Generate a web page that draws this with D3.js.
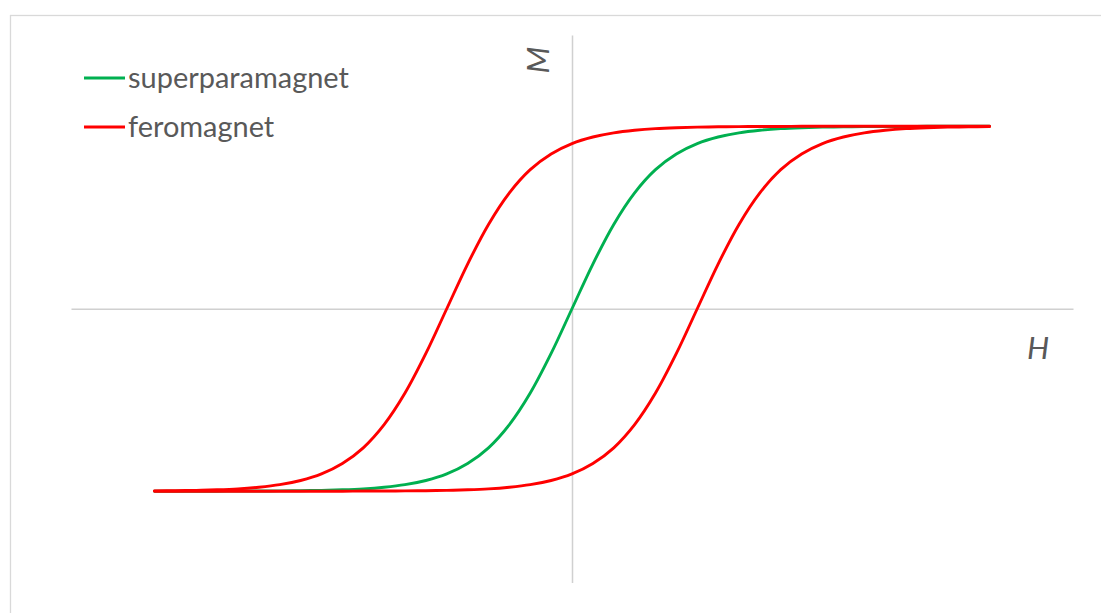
<!DOCTYPE html>
<html><head><meta charset="utf-8">
<script src="https://cdn.jsdelivr.net/npm/d3@7"></script>
<style>html,body{margin:0;padding:0;background:#fff;}svg{display:block;font-family:Lato,"Open Sans",sans-serif;}</style>
</head><body>
<script>
// Data
const H = [-1,-0.95,-0.9,-0.85,-0.8,-0.75,-0.7,-0.65,-0.6,-0.55,-0.5,-0.45,-0.4,-0.35,-0.3,-0.25,-0.2,-0.15,-0.1,-0.05,0,
  0.05,0.1,0.15,0.2,0.25,0.3,0.35,0.4,0.45,0.5,0.55,0.6,0.65,0.7,0.75,0.8,0.85,0.9,0.95,1];
const superparamagnetM = [-1,-1,-1,-1,-0.999,-0.999,-0.998,-0.997,-0.995,-0.992,-0.987,-0.978,-0.964,-0.941,-0.905,-0.848,-0.762,-0.635,-0.462,-0.245,0,
  0.245,0.462,0.635,0.762,0.848,0.905,0.941,0.964,0.978,0.987,0.992,0.995,0.997,0.998,0.999,0.999,1,1,1,1];
const feroAscendingM = [-1,-1,-1,-1,-1,-1,-1,-1,-1,-1,-0.999,-0.999,-0.998,-0.997,-0.995,-0.992,-0.987,-0.978,-0.964,-0.941,-0.905,
  -0.848,-0.762,-0.635,-0.462,-0.245,0,0.245,0.462,0.635,0.762,0.848,0.905,0.941,0.964,0.978,0.987,0.992,0.995,0.997,0.998];
const feroDescendingM = [-0.998,-0.997,-0.995,-0.992,-0.987,-0.978,-0.964,-0.941,-0.905,-0.848,-0.762,-0.635,-0.462,-0.245,0,0.245,0.462,0.635,0.762,0.848,0.905,
  0.941,0.964,0.978,0.987,0.992,0.995,0.997,0.998,0.999,0.999,1,1,1,1,1,1,1,1,1,1];
const seriesNames = ["superparamagnet","feromagnet"];
const seriesColors = ["#00B050","#FF0000"];
const axisTitles = {x:"H", y:"M"};

const W=1101, Hh=613;
const svg = d3.select("body").append("svg").attr("width",W).attr("height",Hh);
svg.append("rect").attr("x",10.5).attr("y",15.5).attr("width",W+20).attr("height",Hh+20)
  .attr("fill","#fff").attr("stroke","#d9d9d9").attr("stroke-width",1.3);

const x = d3.scaleLinear().domain([-1.2,1.2]).range([71,1073]);
const y = d3.scaleLinear().domain([-1.5,1.5]).range([582.5,35]);

svg.append("g").attr("transform",`translate(0,${y(0)})`)
  .call(d3.axisBottom(x).tickValues([]).tickSizeOuter(0));
svg.append("g").attr("transform",`translate(${x(0)},0)`)
  .call(d3.axisLeft(y).tickValues([]).tickSizeOuter(0));
svg.selectAll(".domain").attr("stroke","#d0d0d0").attr("stroke-width",1.5);

const line = d3.line().x(d=>x(d[0])).y(d=>y(d[1])).curve(d3.curveCatmullRom);
const green = H.map((h,i)=>[h,superparamagnetM[i]]);
const redAsc = H.map((h,i)=>[h,feroAscendingM[i]]);
const redDesc = H.map((h,i)=>[h,feroDescendingM[i]]);

const g = svg.append("g").attr("fill","none").attr("stroke-width",2.9).attr("stroke-linecap","round").attr("stroke-linejoin","round");
g.append("path").attr("d",line(green)).attr("stroke",seriesColors[0]);
g.append("path").attr("d",line(redAsc)).attr("stroke",seriesColors[1]);
g.append("path").attr("d",line(redDesc)).attr("stroke",seriesColors[1]);

// Legend
const legend = svg.append("g");
const legY = [78,127];
seriesNames.forEach((n,i)=>{
  legend.append("line").attr("x1",84).attr("x2",125).attr("y1",legY[i]).attr("y2",legY[i])
    .attr("stroke",seriesColors[i]).attr("stroke-width",2.9);
  legend.append("text").attr("x",128).attr("y",legY[i]).attr("dy","0.35em")
    .attr("fill","#595959").attr("font-size",28).text(n);
});
const t0 = legend.select("text").node();
const wNow = t0.getComputedTextLength();
const fs = 28*221/wNow;
legend.selectAll("text").attr("font-size",fs);

svg.append("text").attr("x",1038).attr("y",348).attr("dy","0.35em").attr("text-anchor","middle")
  .attr("font-style","italic").attr("font-size",fs*1.08).attr("fill","#595959").text(axisTitles.x);
svg.append("text").attr("transform","translate(538,60) rotate(-90)").attr("dy","0.35em").attr("text-anchor","middle")
  .attr("font-style","italic").attr("font-size",fs*1.08).attr("fill","#595959").text(axisTitles.y);
</script>
</body></html>
